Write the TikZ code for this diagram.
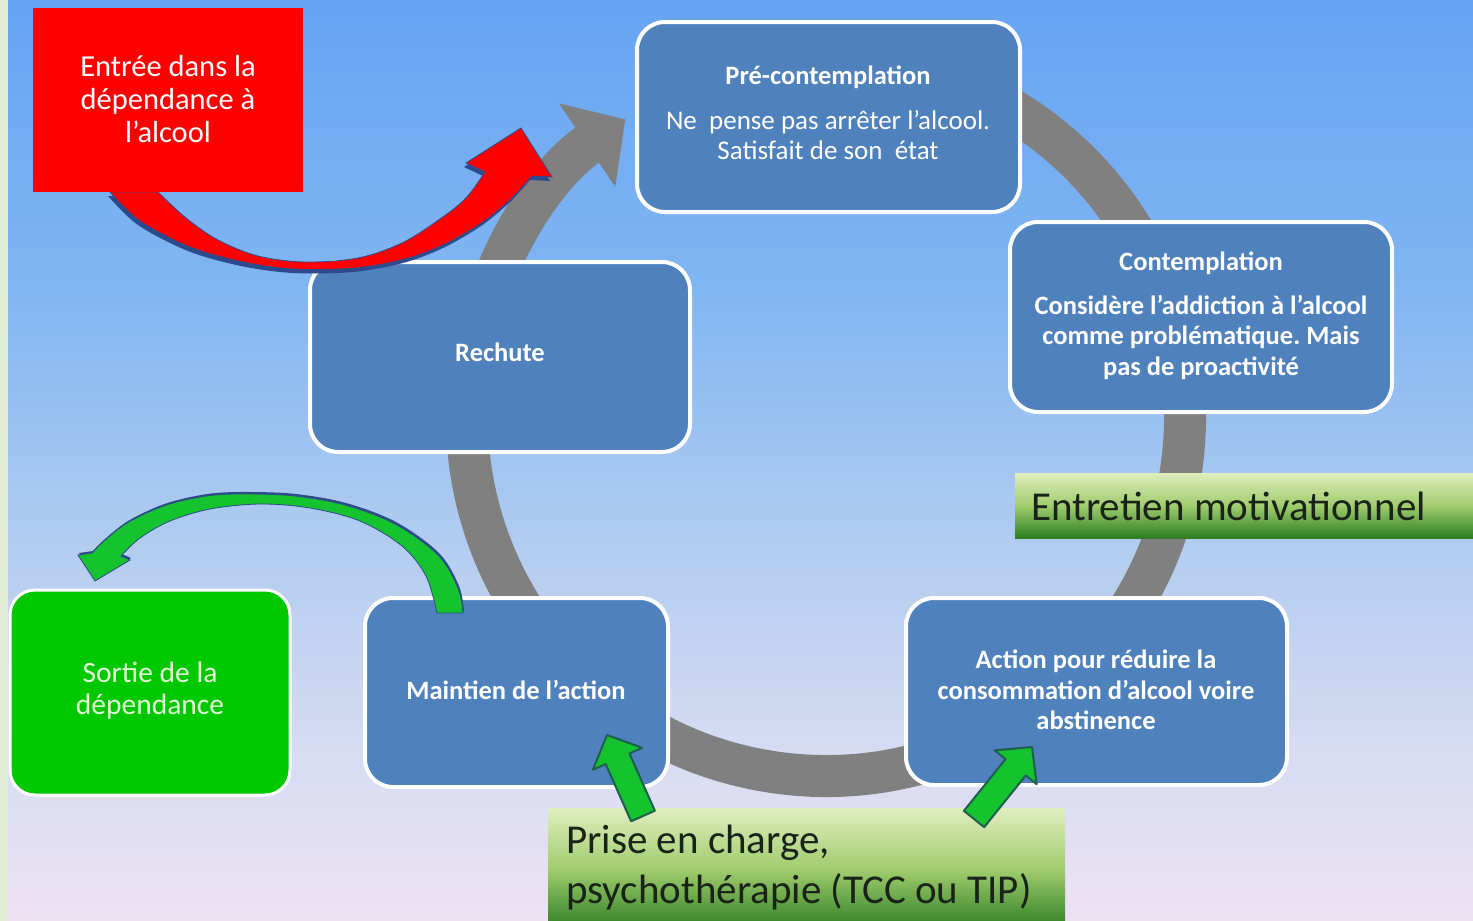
\documentclass[tikz,border=0pt]{standalone}
\usepackage{fontspec}
\setmainfont{Carlito}
\usetikzlibrary{arrows.meta,calc}
\frenchspacing

\definecolor{skytop}{RGB}{102,164,242}
\definecolor{skyA}{RGB}{130,182,242}
\definecolor{skyB}{RGB}{180,205,240}
\definecolor{skyC}{RGB}{215,220,242}
\definecolor{skybot}{RGB}{238,226,243}
\definecolor{edgestrip}{RGB}{226,236,214}
\definecolor{stageblue}{RGB}{79,129,189}
\definecolor{ringgrey}{RGB}{128,128,128}
\definecolor{entryred}{RGB}{255,0,0}
\definecolor{exitgreen}{RGB}{0,200,0}
\definecolor{exittext}{RGB}{225,252,215}
\definecolor{arrowgreen}{RGB}{20,195,45}
\definecolor{arrowrim}{RGB}{30,95,80}
\definecolor{navyshade}{RGB}{45,75,140}
\definecolor{tagtop}{RGB}{224,237,190}
\definecolor{tagmid}{RGB}{160,205,110}
\definecolor{tagbot}{RGB}{45,125,35}
\definecolor{tagtext}{RGB}{25,35,25}

\pgfdeclareverticalshading{skyfade}{100bp}{color(0bp)=(skybot); color(25bp)=(skybot); color(34bp)=(skyC); color(45bp)=(skyB); color(59bp)=(skyA); color(75bp)=(skytop); color(100bp)=(skytop)}

\tikzset{
  stage/.style={draw=white, line width=4pt, fill=stageblue, rounded corners=28pt, inner sep=0pt},
  stagetext/.style={text=white, align=center, inner sep=0pt, font=\bfseries\fontsize{26.5}{30.5}\selectfont},
  tag/.style={top color=tagtop, bottom color=tagbot, middle color=tagmid, inner sep=0pt},
  tagtext/.style={text=tagtext, align=left, inner sep=0pt, font=\fontsize{41}{50}\selectfont},
  ringline/.style={draw=ringgrey, line width=42pt, -{Triangle[length=46pt,width=98pt]}},
  pushstyle/.style={fill=arrowgreen, draw=arrowrim, line width=2pt, line join=round}
}

% straight block arrow: style, tail, tip, half shaft width, half head width, head length
\newcommand\pusharrow[6]{%
  \path[#1] let \p1=($(#3)-(#2)$), \n1={atan2(\y1,\x1)}, \n2={veclen(\x1,\y1)-#6} in
    ($(#2)+(\n1+90:#4)$) -- ($(#2)+(\n1:\n2)+(\n1+90:#4)$) -- ($(#2)+(\n1:\n2)+(\n1+90:#5)$)
    -- (#3) -- ($(#2)+(\n1:\n2)+(\n1-90:#5)$) -- ($(#2)+(\n1:\n2)+(\n1-90:#4)$)
    -- ($(#2)+(\n1-90:#4)$) -- cycle;}

% curved arrow leaving the entry box towards the cycle
\newcommand\entryarrow[1]{%
  \path[#1] plot[smooth, tension=0.55] coordinates {(110,192) (140,221) (190,247) (243,262) (295,269) (355,268) (405,259) (445,244) (483,222) (512,198) (532,176)}
    -- (552,177) -- (521,128) -- (466,163) -- (485,172)
    -- plot[smooth, tension=0.55] coordinates {(485,172) (466,198) (440,219) (402,243) (358,258) (305,262) (258,256) (218,240) (186,218) (158,192)}
    -- cycle;}

% curved arrow from the maintenance stage to the exit box
\newcommand\exitarrow[1]{%
  \path[#1] plot[smooth, tension=0.55] coordinates {(463,613) (458,588) (438,555) (395,524) (345,505) (295,496) (250,494) (215,495) (185,500) (158,508) (127,523) (104,541) (92,553)}
    -- (78,555) -- (95,581) -- (130,560) -- (121,556)
    -- plot[smooth, tension=0.55] coordinates {(121,556) (140,538) (170,521) (210,509) (260,504) (310,508) (360,521) (402,546) (426,576) (437,613)}
    -- cycle;}

\begin{document}
\begin{tikzpicture}[x=1pt, y=-1pt]
\useasboundingbox (0,0) rectangle (1473,921);

% background
\shade[shading=skyfade] (0,0) rectangle (1473,921);
\fill[edgestrip] (0,0) rectangle (8,921);

% the grey cycle
\coordinate (ringc) at (826,417);
\draw[ringline] ($(ringc)+(-80:359)$) arc[start angle=-80, end angle=236, radius=359];

% stages of the cycle
\node[stage, minimum width=383pt, minimum height=190pt] (pre) at (828.5,117) {};
\node[stage, minimum width=382pt, minimum height=190pt] (con) at (1201,317) {};
\node[stage, minimum width=380pt, minimum height=190pt] (rec) at (500,357) {};
\node[stage, minimum width=303pt, minimum height=189pt] (mai) at (516.5,692.5) {};
\node[stage, minimum width=381pt, minimum height=187pt] (act) at (1096.5,691.5) {};

% entry into and exit from the dependence
\entryarrow{fill=navyshade, shift={(-2,4)}}
\entryarrow{fill=entryred, draw=navyshade, line width=0.8pt}
\exitarrow{fill=navyshade, shift={(1,-2)}}
\exitarrow{fill=arrowgreen, draw=navyshade, line width=0.8pt}

\node[fill=entryred, minimum width=270pt, minimum height=184pt, inner sep=0pt] (entry) at (168,100) {};
\node[draw=white, line width=3pt, fill=exitgreen, rounded corners=25pt, minimum width=280pt, minimum height=205pt, inner sep=0pt] (exit) at (150,692.5) {};

% therapy labels
\node[tag, minimum width=465pt, minimum height=65pt] (mot) at (1247.5,505.5) {};
\node[tag, minimum width=517pt, minimum height=122pt] (pri) at (806.5,869) {};

% arrows from the therapy label to the stages
\coordinate (p1tail) at (643,816);
\coordinate (p1tip) at (607,735);
\coordinate (p2tail) at (974,819);
\coordinate (p2tip) at (1032,747);
\pusharrow{pushstyle}{p1tail}{p1tip}{13pt}{27pt}{26pt}
\pusharrow{pushstyle}{p2tail}{p2tip}{13pt}{27pt}{26pt}

% texts
\node[stagetext] (preT) at (828,77) {Pré-contemplation};
\node[stagetext, font=\fontsize{27}{30}\selectfont] (preB) at (828,135) {Ne~ pense pas arrêter l’alcool.\\Satisfait de son~ état};
\node[stagetext] (conT) at (1201,263) {Contemplation};
\node[stagetext] (conB) at (1201,337) {Considère l’addiction à l’alcool\\comme problématique. Mais\\pas de proactivité};
\node[stagetext] (recT) at (500,352) {Rechute};
\node[stagetext] (maiT) at (516,690) {Maintien de l’action};
\node[stagetext] (actT) at (1096,690) {Action pour réduire la\\consommation d’alcool voire\\abstinence};
\node[text=white, align=center, inner sep=0pt, font=\fontsize{30.5}{33}\selectfont] (entryT) at (168,99) {Entrée dans la\\dépendance à\\l’alcool};
\node[text=exittext, align=center, inner sep=0pt, font=\fontsize{29.5}{32}\selectfont] (exitT) at (150,691) {Sortie de la\\dépendance};
\node[tagtext, anchor=west] (motT) at (1031,506) {Entretien motivationnel};
\node[tagtext, anchor=west] (priT) at (566,868) {Prise en charge,\\psychothérapie (TCC ou TIP)};
\end{tikzpicture}
\end{document}
